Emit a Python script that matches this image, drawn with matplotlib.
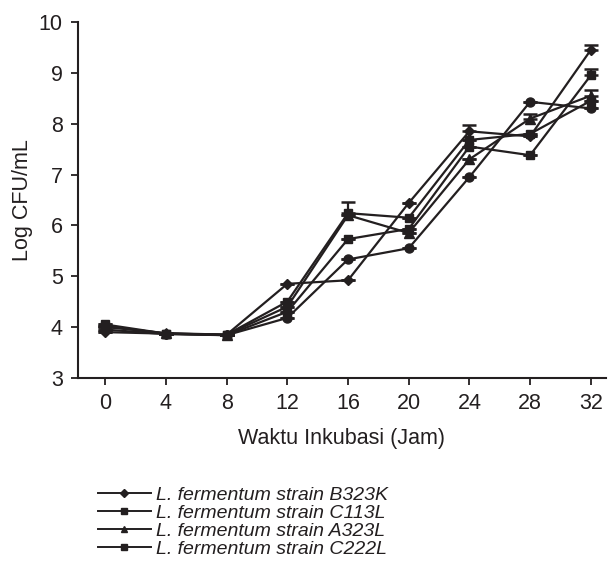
import matplotlib
matplotlib.use("Agg")
import matplotlib.pyplot as plt
from matplotlib.lines import Line2D

plt.rcParams['font.family'] = ['Liberation Sans', 'DejaVu Sans']

hours = [0, 4, 8, 12, 16, 20, 24, 28, 32]
b323k = [3.90, 3.87, 3.85, 4.85, 4.92, 6.44, 7.85, 7.75, 9.45]
c113l = [4.05, 3.87, 3.85, 4.50, 6.24, 6.15, 7.68, 7.80, 8.45]
a323l = [4.00, 3.88, 3.85, 4.40, 6.20, 5.85, 7.30, 8.10, 8.55]
c222l = [4.02, 3.87, 3.84, 4.30, 5.73, 5.93, 7.55, 7.38, 8.95]
other = [3.95, 3.86, 3.84, 4.18, 5.33, 5.55, 6.95, 8.43, 8.30]

err_b323k = [0, 0, 0, 0, 0, 0, 0.12, 0, 0.10]
err_c113l = [0, 0, 0, 0, 0.22, 0, 0, 0, 0]
err_a323l = [0, 0, 0, 0, 0, 0, 0, 0.10, 0.12]
err_c222l = [0, 0, 0, 0, 0, 0, 0, 0, 0.12]
err_other = [0, 0, 0, 0, 0, 0, 0, 0, 0]

labels = ["L. fermentum strain B323K", "L. fermentum strain C113L",
          "L. fermentum strain A323L", "L. fermentum strain C222L"]

fig = plt.figure(figsize=(6.09, 5.64), dpi=100)
ax = fig.add_axes([0.128, 0.330, 0.867, 0.631])

series = [(b323k, err_b323k, 'D', 5), (c113l, err_c113l, 's', 6),
          (a323l, err_a323l, '^', 6.5), (c222l, err_c222l, 's', 6),
          (other, err_other, 'o', 6.5)]
for vals, err, m, ms in series:
    ax.errorbar(hours, vals, yerr=[[0]*len(err), err], color='#231f20', marker=m,
                markersize=ms, linewidth=1.6, capsize=5, elinewidth=1.6, capthick=1.8)

ax.set_xlim(-1.8, 33.0)
ax.set_ylim(3, 10)
ax.set_xticks(hours)
ax.set_yticks(range(3, 11))
for s in ['top', 'right']:
    ax.spines[s].set_visible(False)
for s in ['left', 'bottom']:
    ax.spines[s].set_linewidth(1.5)
    ax.spines[s].set_color('#231f20')
ax.tick_params(direction='out', length=5, width=1.3, labelsize=15.5, colors='#231f20', pad=6)
ax.set_xlabel("Waktu Inkubasi (Jam)", fontsize=15.5, color='#231f20', labelpad=10)
ax.set_ylabel("Log CFU/mL", fontsize=15.5, color='#231f20', labelpad=4)

handles = [Line2D([], [], color='#231f20', marker=m, markersize=ms*0.75, linewidth=1.4)
           for _, _, m, ms in series[:4]]
leg = fig.legend(handles, labels, loc='upper left', bbox_to_anchor=(0.161, 0.138),
                 frameon=False, handlelength=2.7, handletextpad=0.3, labelspacing=0.02,
                 borderaxespad=0, borderpad=0,
                 prop={'style': 'italic', 'size': 14})
for t in leg.get_texts():
    t.set_color('#231f20')

fig.savefig("out.png", dpi=100)
